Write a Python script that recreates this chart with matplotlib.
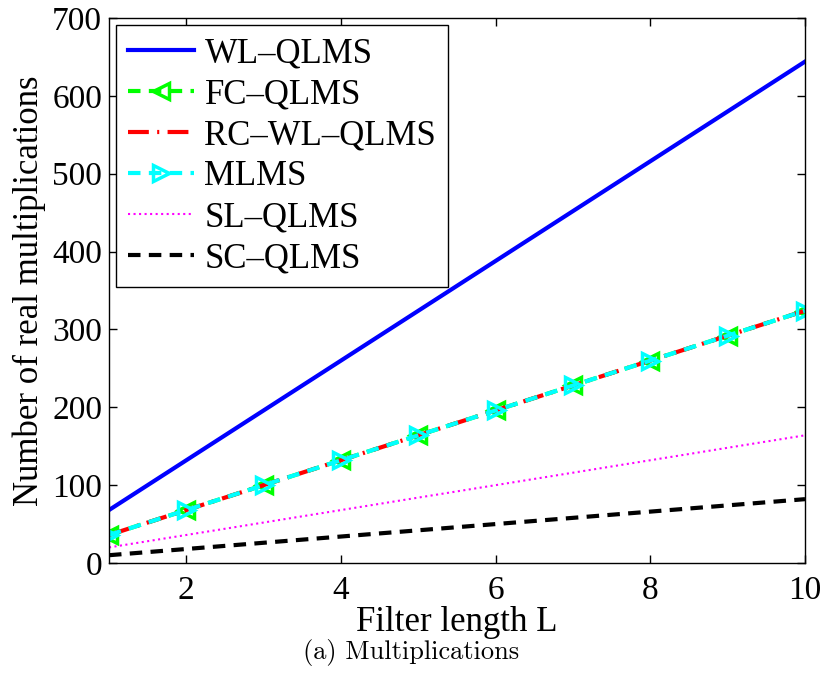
import matplotlib.pyplot as plt

# Filter length and number of real multiplications per algorithm
L = [1, 2, 3, 4, 5, 6, 7, 8, 9, 10]
wl_qlms = [68, 132, 196, 260, 324, 388, 452, 516, 580, 644]
fc_qlms = [36, 68, 100, 132, 164, 196, 228, 260, 292, 324]
rc_wl_qlms = [36, 68, 100, 132, 164, 196, 228, 260, 292, 324]
mlms = [36, 68, 100, 132, 164, 196, 228, 260, 292, 324]
sl_qlms = [20, 36, 52, 68, 84, 100, 116, 132, 148, 164]
sc_qlms = [10, 18, 26, 34, 42, 50, 58, 66, 74, 82]

plt.rcParams['font.family'] = ['Liberation Serif', 'DejaVu Serif']

fig = plt.figure(figsize=(8.23, 6.81), dpi=100)
ax = fig.add_axes([109 / 823, 1 - 563 / 681, (805 - 109) / 823, (563 - 18) / 681])

ax.plot(L, wl_qlms, '-', color='#0000ff', lw=3, label='WL\u2013QLMS')
ax.plot(L, fc_qlms, '--', color='#00ff00', lw=3, marker='<', markersize=12,
        markerfacecolor='none', markeredgewidth=2.5, dashes=(3, 2), label='FC\u2013QLMS')
ax.plot(L, rc_wl_qlms, '-.', color='#ff0000', lw=3, dashes=(5, 2, 0.5, 2), label='RC\u2013WL\u2013QLMS')
ax.plot(L, mlms, '--', color='#00ffff', lw=3, marker='>', markersize=12,
        markerfacecolor='none', markeredgewidth=2.5, dashes=(3, 2), label='MLMS')
ax.plot(L, sl_qlms, ':', color='#ff00ff', lw=1.5, label='SL\u2013QLMS')
ax.plot(L, sc_qlms, '--', color='black', lw=3, dashes=(3, 2), label='SC\u2013QLMS')

ax.set_xlim(1, 10)
ax.set_ylim(0, 700)
ax.set_xticks([2, 4, 6, 8, 10])
ax.set_yticks(range(0, 701, 100))
ax.tick_params(direction='in', top=True, right=True, labelsize=24, length=6, width=1)
ax.tick_params(axis='x', pad=9)
ax.tick_params(axis='y', pad=5)
for s in ax.spines.values():
    s.set_linewidth(1)

ax.set_xlabel('Filter length L', fontsize=25, labelpad=0)
ax.set_ylabel('Number of real multiplications', fontsize=25, labelpad=4)

leg = ax.legend(loc='upper left', fontsize=25, fancybox=False, edgecolor='black',
                framealpha=1, handlelength=1.9, borderaxespad=0.2, labelspacing=0.23,
                borderpad=0.35, handletextpad=0.3)
leg.get_frame().set_linewidth(1)

fig.text(0.5, 1 - 652 / 681, '(a) Multiplications', ha='center', va='center',
         fontsize=19, family='cmr10')

fig.savefig('out.png', dpi=100)
